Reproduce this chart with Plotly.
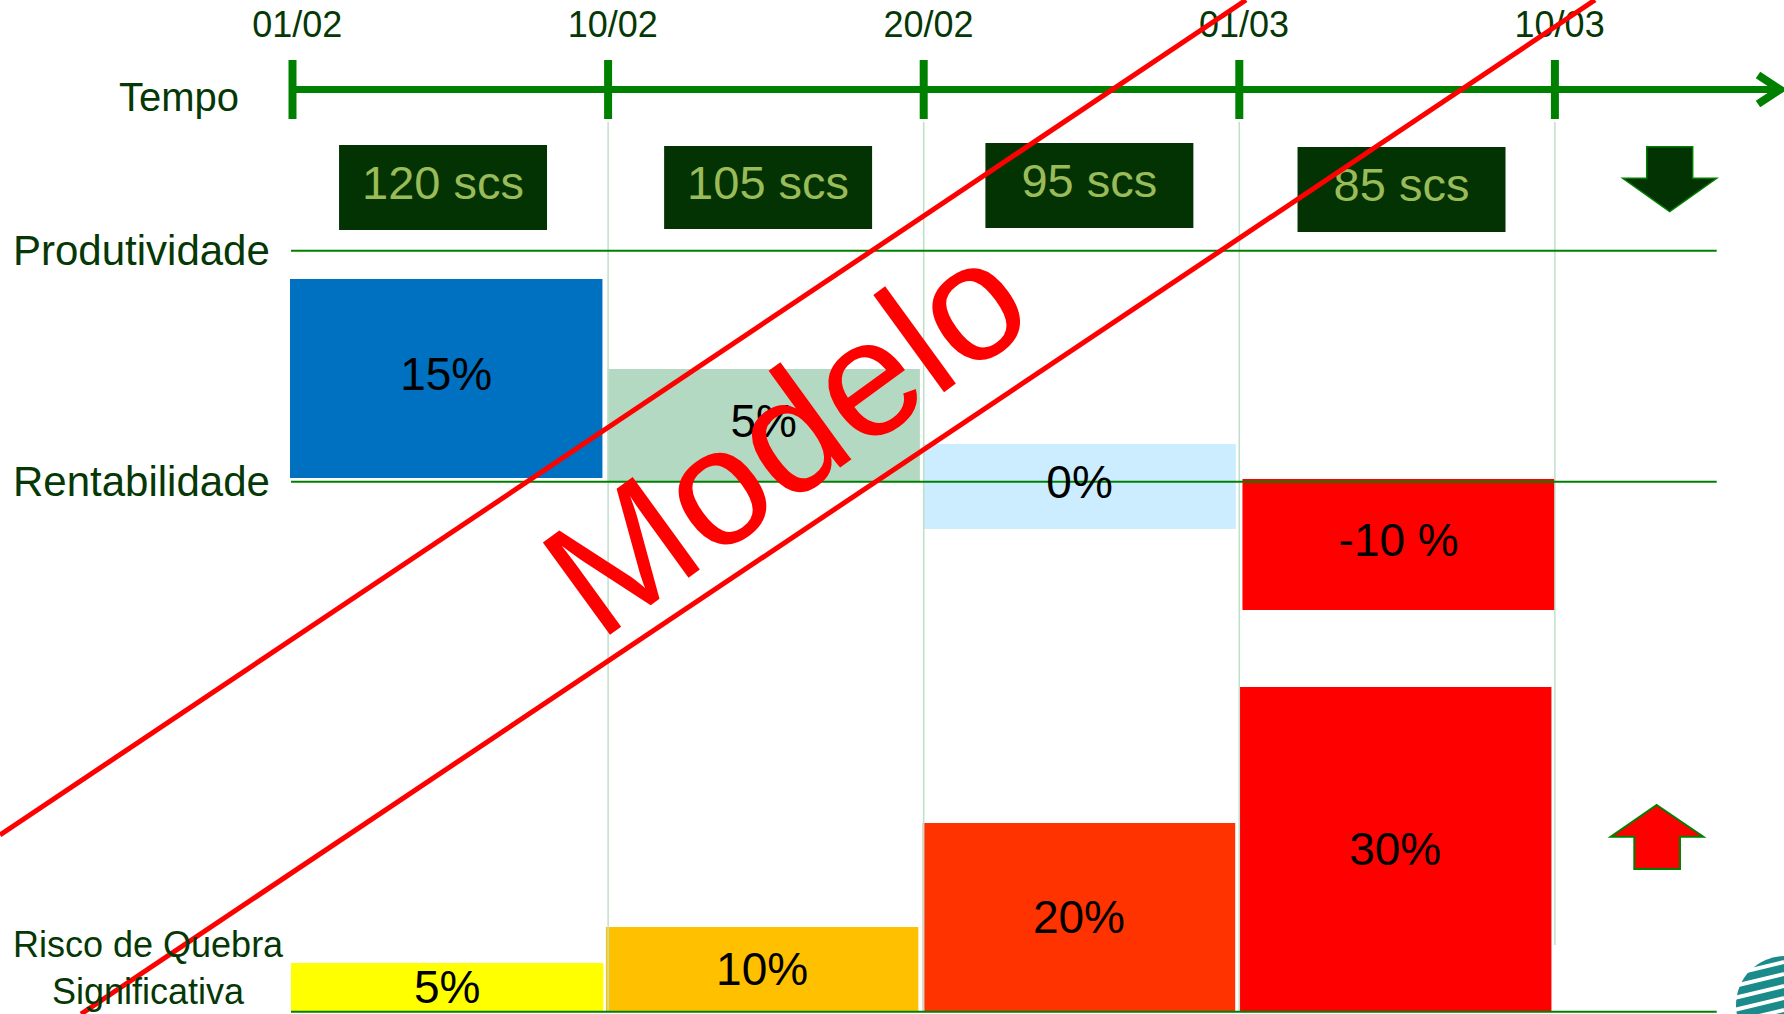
import plotly.graph_objects as go

W, H = 1784, 1014
FONT = "Liberation Sans, Arial, sans-serif"

# ---------------- data ----------------
dates = ["01/02", "10/02", "20/02", "01/03", "10/03"]
prod_labels = ["120 scs", "105 scs", "95 scs", "85 scs"]
rent_labels = ["15%", "5%", "0%", "-10 %"]
risk_labels = ["5%", "10%", "20%", "30%"]

# vertical extents of the blocks, in slide rows (0 = top edge, grows downward)
prod_top = [145, 146, 143, 147]
prod_bottom = [230, 229, 228, 232]
rent_top = [279, 369, 444, 479]
rent_bottom = [478, 482, 529, 610]
risk_top = [963, 927, 823, 687]
risk_bottom = [1012, 1012, 1012, 1012]

# ---------------- styles / layout constants ----------------
COL0, COLW = 292.5, 315.6          # pixel position of period 0 and width of a period
def cx(p):                          # pixel x -> period units
    return (p - COL0) / COLW
def px(p):                          # pixel -> paper
    return p / W
def py(p):
    return 1 - p / H

GREEN = "#008000"
DARK = "#063806"
prod_shift = [-0.023, 0.007, 0.025, 0.014]
rent_shift = [-0.013, -0.007, -0.006, 0.005]
risk_shift = [-0.01, -0.012, -0.008, -0.006]
prod_width = 0.659
rent_colors = ["#0070C0", "#B4D9C2", "#CCECFF", "#FF0000"]
risk_colors = ["#FFFF00", "#FFC000", "#FF3300", "#FF0000"]

n = len(prod_labels)
centers = [i + 0.5 for i in range(n)]

fig = go.Figure()

# light vertical separators
for i in range(1, len(dates)):
    fig.add_trace(go.Scatter(x=[i, i], y=[122, 1012 if i < len(dates) - 1 else 945],
                             mode="lines", line=dict(color="#BFE0C8", width=1.5),
                             hoverinfo="skip"))

# horizontal row lines
for yy, x1 in [(250.7, 1716.7), (481.7, 1716.7), (1011.7, 1716.7)]:
    fig.add_trace(go.Scatter(x=[cx(291), cx(x1)], y=[yy, yy], mode="lines",
                             line=dict(color=GREEN, width=2), hoverinfo="skip"))

# timeline
fig.add_trace(go.Scatter(x=[0, cx(1779)], y=[89.5, 89.5], mode="lines",
                         line=dict(color=GREEN, width=7), hoverinfo="skip"))
tx, ty = [], []
for i in range(len(dates)):
    tx += [i, i, None]
    ty += [60, 119, None]
fig.add_trace(go.Scatter(x=tx, y=ty, mode="lines", line=dict(color=GREEN, width=8),
                         hoverinfo="skip"))
fig.add_trace(go.Scatter(x=[cx(1758), cx(1780), cx(1758)], y=[75, 89.5, 104],
                         mode="lines", line=dict(color=GREEN, width=8), hoverinfo="skip"))
fig.add_trace(go.Scatter(x=[i + 0.015 for i in range(len(dates))], y=[28] * len(dates),
                         mode="text", text=dates,
                         textfont=dict(family=FONT, size=36, color=DARK), hoverinfo="skip"))

# productivity boxes
pc = [c + s for c, s in zip(centers, prod_shift)]
fig.add_trace(go.Bar(x=pc, base=prod_top, y=[b - t for t, b in zip(prod_top, prod_bottom)],
                     width=prod_width, marker=dict(color="#033303", line=dict(width=0)),
                     hoverinfo="skip"))
fig.add_trace(go.Scatter(x=pc, y=[(t + b) / 2 for t, b in zip(prod_top, prod_bottom)],
                         mode="text", text=prod_labels,
                         textfont=dict(family=FONT, size=47, color="#9BBB59"), hoverinfo="skip"))

# rentabilidade blocks
rnc = [c + s for c, s in zip(centers, rent_shift)]
fig.add_trace(go.Bar(x=rnc, base=rent_top, y=[b - t for t, b in zip(rent_top, rent_bottom)],
                     width=0.99, marker=dict(color=rent_colors, line=dict(width=0)),
                     hoverinfo="skip"))
fig.add_trace(go.Scatter(x=rnc, y=[(t + b) / 2 for t, b in zip(rent_top, rent_bottom)],
                         mode="text", text=rent_labels,
                         textfont=dict(family=FONT, size=46, color="black"), hoverinfo="skip"))

# risk blocks
rc = [c + s for c, s in zip(centers, risk_shift)]
fig.add_trace(go.Bar(x=rc, base=risk_top, y=[b - t for t, b in zip(risk_top, risk_bottom)],
                     width=0.99, marker=dict(color=risk_colors, line=dict(width=0)),
                     hoverinfo="skip"))
fig.add_trace(go.Scatter(x=rc, y=[(t + b) / 2 + 4 for t, b in zip(risk_top, risk_bottom)],
                         mode="text", text=risk_labels,
                         textfont=dict(family=FONT, size=46, color="black"), hoverinfo="skip"))

# ---------------- decorations ----------------
def path(points):
    return "M " + " L ".join(f"{px(a):.5f},{py(b):.5f}" for a, b in points) + " Z"

down_arrow = [(1646.7, 146.7), (1692.7, 146.7), (1692.7, 178.3), (1716.7, 178.3),
              (1669.7, 211.7), (1622.7, 178.3), (1646.7, 178.3)]
up_arrow = [(1656.7, 805), (1703.3, 836.7), (1680, 836.7), (1680, 869),
            (1634.3, 869), (1634.3, 836.7), (1610.7, 836.7)]
shapes = [
    dict(type="path", xref="paper", yref="paper", path=path(down_arrow),
         fillcolor="#033303", line=dict(color=GREEN, width=1.5)),
    dict(type="path", xref="paper", yref="paper", path=path(up_arrow),
         fillcolor="#FF0000", line=dict(color=GREEN, width=2)),
    # logo
    dict(type="circle", xref="paper", yref="paper", x0=px(1736), x1=px(1834),
         y0=py(1054), y1=py(956), fillcolor="#1A8A8A", line=dict(width=0)),
]
for k in range(7):
    y0 = 968 + k * 12
    shapes.append(dict(type="line", xref="paper", yref="paper", x0=px(1730), x1=px(1784),
                       y0=py(y0 + 7), y1=py(y0 - 6), line=dict(color="white", width=4)))
# watermark lines
for (x0, y0), (x1, y1) in [((0, 835), (1246, 0)), ((81, 1014), (1595, 0))]:
    shapes.append(dict(type="line", xref="paper", yref="paper", x0=px(x0), y0=py(y0),
                       x1=px(x1), y1=py(y1), line=dict(color="#FF0000", width=5)))

annotations = [
    dict(text="Tempo", x=px(241), y=py(97), xanchor="right", yanchor="middle",
         font=dict(family=FONT, size=40, color=DARK)),
    dict(text="Produtividade", x=px(11), y=py(250), xanchor="left", yanchor="middle",
         font=dict(family=FONT, size=42, color=DARK)),
    dict(text="Rentabilidade", x=px(11), y=py(481), xanchor="left", yanchor="middle",
         font=dict(family=FONT, size=42, color=DARK)),
    dict(text="Risco de Quebra<br>Significativa", x=px(148.5), y=py(968), xanchor="center",
         yanchor="middle", align="center",
         font=dict(family=FONT, size=36, color=DARK)),
    dict(text="Modelo", x=px(785), y=py(436), xanchor="center", yanchor="middle",
         textangle=-36, font=dict(family=FONT, size=166, color="#FF0000")),
]
for a in annotations:
    a.update(xref="paper", yref="paper", showarrow=False)

fig.update_layout(
    width=W, height=H, margin=dict(l=0, r=0, t=0, b=0, pad=0),
    paper_bgcolor="white", plot_bgcolor="white", showlegend=False,
    barmode="overlay",
    xaxis=dict(range=[cx(0), cx(W)], visible=False, fixedrange=True),
    yaxis=dict(range=[H, 0], visible=False, fixedrange=True),
    shapes=shapes, annotations=annotations,
)

fig.write_html("out.html", config={"displayModeBar": False},
               post_script="document.body.style.margin='0';document.body.style.overflow='hidden';")
